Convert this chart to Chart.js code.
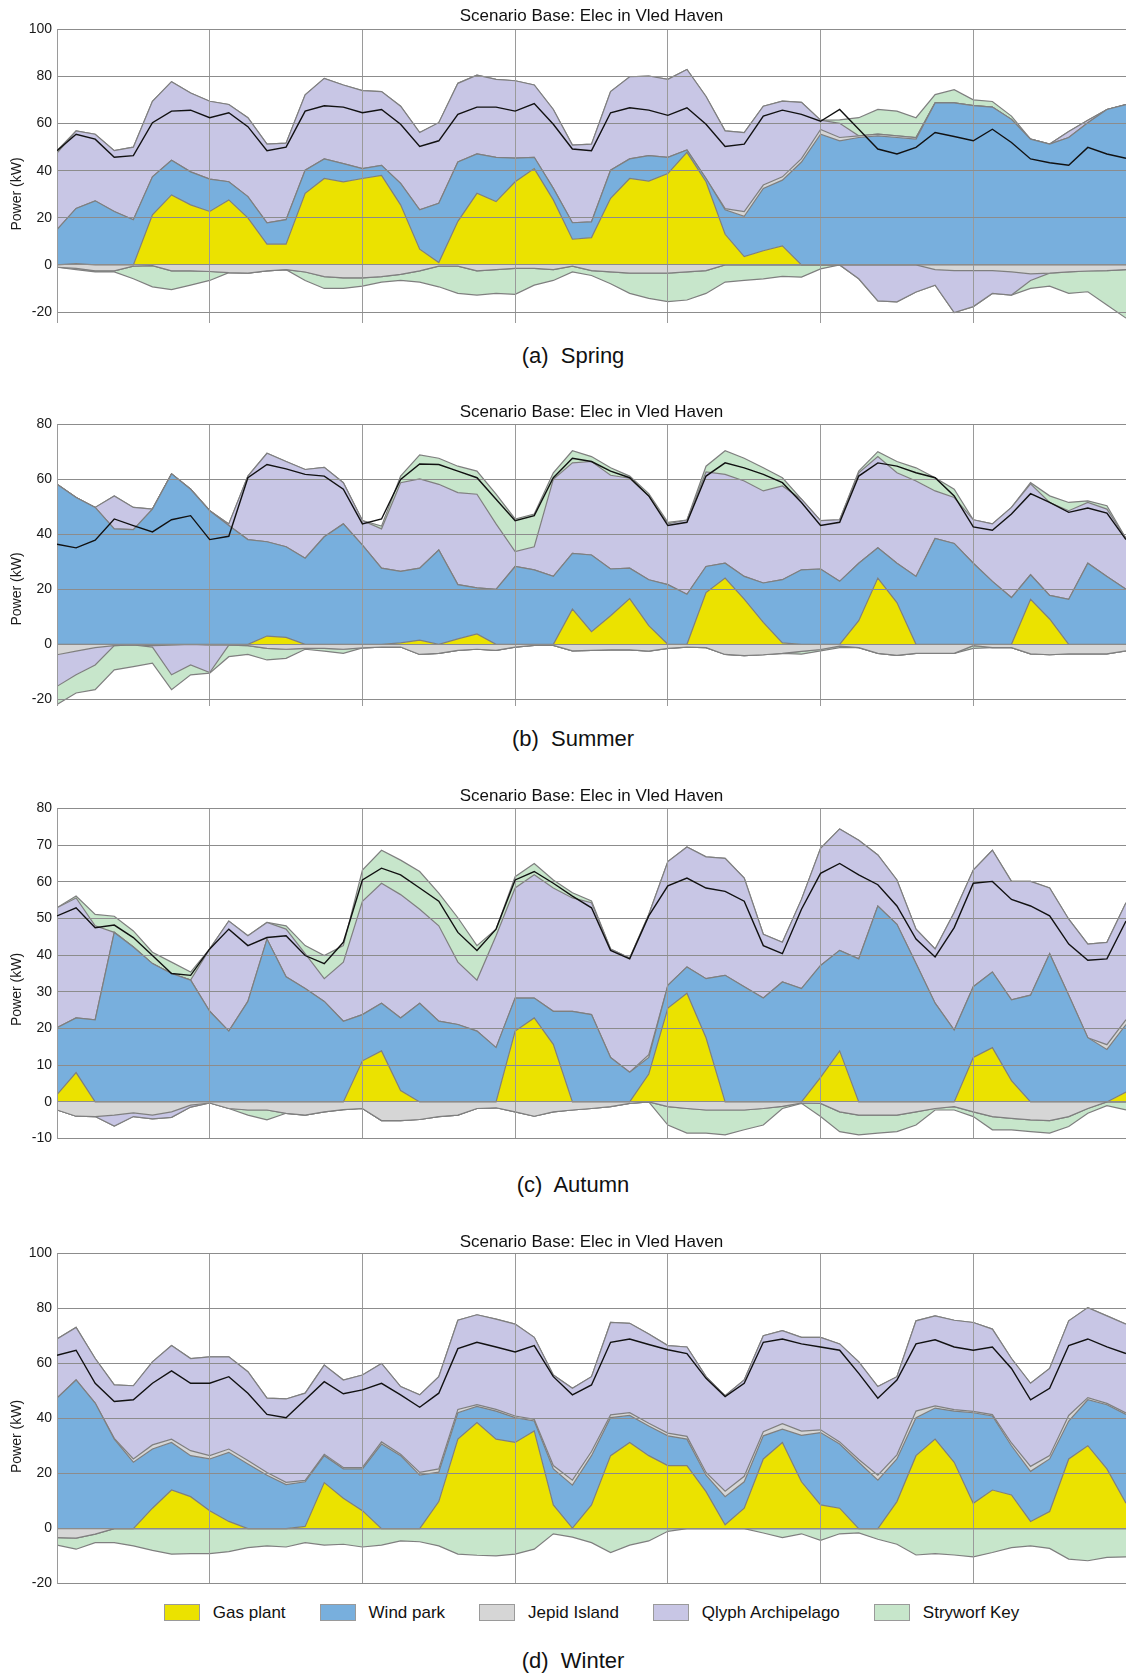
<!DOCTYPE html>
<html>
<head>
<meta charset="utf-8">
<script src="https://cdn.jsdelivr.net/npm/chart.js@4.4.0/dist/chart.umd.min.js"></script>
<style>
 body { margin: 0; background: #fff; width: 1126px; height: 1677px; position: relative; overflow: hidden;
  font-family: "Liberation Sans", Arial, Helvetica, sans-serif; color: #111; }
 canvas.panel { position: absolute; left: 0; }
 .title { position: absolute; left: 57px; width: 1069px; text-align: center; font-size: 17px; line-height: 20px; z-index: 2; }
 .caption { position: absolute; left: 0; width: 1146px; text-align: center; font-size: 22px; line-height: 26px; white-space: pre; }
 #legend { position: absolute; left: 57px; width: 1069px; top: 1602px; height: 21px; display: flex;
  justify-content: center; align-items: center; font-size: 17px; }
 #legend .item { display: flex; align-items: center; margin: 0 17px; white-space: nowrap; }
 #legend .sw { width: 36px; height: 17px; border: 1px solid #9a9a9a; box-sizing: border-box; margin-right: 13px; }
</style>
</head>
<body>
<canvas class="panel" id="spring" width="1126" height="320" style="top:16px"></canvas>
<canvas class="panel" id="summer" width="1126" height="308" style="top:411px"></canvas>
<canvas class="panel" id="autumn" width="1126" height="357" style="top:795px"></canvas>
<canvas class="panel" id="winter" width="1126" height="357" style="top:1240px"></canvas>

<div class="title" style="top:6px">Scenario Base: Elec in Vled Haven</div>
<div class="title" style="top:402px">Scenario Base: Elec in Vled Haven</div>
<div class="title" style="top:786px">Scenario Base: Elec in Vled Haven</div>
<div class="title" style="top:1232px">Scenario Base: Elec in Vled Haven</div>

<div class="caption" style="top:343px">(a)  Spring</div>
<div class="caption" style="top:726px">(b)  Summer</div>
<div class="caption" style="top:1172px">(c)  Autumn</div>
<div class="caption" style="top:1648px">(d)  Winter</div>

<div id="legend"></div>

<script>
// one point every 3 hours over a week
const hours = [];
for (let h = 0; h <= 168; h += 3) hours.push(h);

const seriesNames = ['Gas plant', 'Wind park', 'Jepid Island', 'Qlyph Archipelago', 'Stryworf Key'];
const seriesColors = ['#ebe200', '#78afdd', '#d6d6d6', '#c8c6e5', '#c7e6cb'];

// Spring
const springGas = [0,0.5,0,0,0,21.3,29.7,25.5,22.7,27.6, 20,8.8,8.8,30.4,36.7,35.3,36.7,38,25.5,6.7, 1,18.5,30.4,26.9,35.3,40.9,27.6,10.9,11.6,28.3, 36.7,35.6,38.8,47.8,35.3,13,3.5,6,8.1,0, 0,0,0,0,0,0,0,0,0,0, 0,0,0,0,0,0,0];
const springWind = [15,23.5,27.2,22.7,19.2,16.1,14.7,14,13.7,7.7, 9,9.1,10.4,9.8,8.3,7.7,4.2,4.3,9.1,16.7, 25.2,25.2,16.7,18.8,10,4.8,4.9,7,6.7,11.9, 8.3,10.8,6.9,1,1.4,10.4,17.1,26.5,27.9,43.7, 55.5,52.7,54.1,54.8,54.1,53.4,68.8,68.8,67.6,67, 61.8,53.4,51.3,54.1,60.4,66,68.1];
const springJepid = [-1,-1.5,-2.5,-2.5,-0.5,-0.3,-2.5,-2.5,-2.8,-3.3, -3.5,-2.5,-2,-3,-5,-5.5,-5.5,-5,-4,-2.5, -0.5,-0.5,-2.5,-2,-1.5,-1.5,-2,-0.5,-2.4,-3, -3.5,-3.5,-3.5,-3,-2.4,0.5,2,1.4,1.4,1.4, 2,1.4,0.7,0.7,0.7,0.7,-2,-2.4,-2.4,-2.4, -3,-3.8,-3.5,-3,-2.6,-2.4,-2];
const springQlyph = [32.5,32.9,28.3,25.8,30.8,32.1,33.4,33.5,33.1,32.8, 33.5,33.4,32.5,32,34.2,33.4,33.1,31.3,32.8,32.8, 34.2,33.4,33.5,33.1,32.9,30.7,33.5,33,33,33.4, 34.9,33.8,33.1,34.2,34.8,33,33.6,33.5,32.1,23.9, 4,6,-5.9,-15.3,-15.7,-11.5,-6.6,-17.8,-15.3,-9.7, -9.8,-2.8,0,2.5,1,0,0];
const springStryworf = [1,-0.5,-0.5,-0.5,-5.4,-9,-8,-6.1,-3.8,0, 0,0,0,-3.6,-5,-4.5,-3.5,-2.3,-2.6,-4.8, -8.8,-11.6,-10.3,-10.1,-11,-7.1,-4.6,-2.5,-2.1,-5, -8.6,-10.7,-12.1,-11.9,-9.7,-7.3,-6.6,-5.9,-4.9,-5.2, -1.7,1.5,7.7,10.5,10.5,8.4,3.5,5.6,2.5,2.4, 1.4,-3.4,-5.5,-9.1,-8.8,-14.6,-20.6];
const springDemand = [48.5,55.5,53.4,45.7,46.4,60.4,65.3,65.7,62.5,64.6, 58.7,48.5,50,65.3,67.6,67,64.6,66,59.7,50.3, 52.7,63.9,67,67,65.3,68.5,59.7,49.2,48.5,64.6, 66.7,65.7,63.5,66.7,59.7,50.3,51.3,63.2,65.7,63.9, 61,66,57.6,49.2,47.1,49.9,56.2,54.5,52.7,57.6, 52,45,43.4,42.3,49.9,47.1,45.3];

// Summer
const summerGas = [0,0,0,0,0,0,0,0,0,0, 0,3,2.5,0,0,0,0,0,0.5,1.5, 0,2,3.8,0,0,0,0,12.8,4.6,10.4, 16.6,6.8,0,0,18.8,24.1,16.4,8,0.5,0, 0,0,8.6,24.1,15.2,0,0,0,0,0, 0,16.4,9.2,0,0,0,0];
const summerWind = [58.2,53.4,49.8,42,41.7,49.2,62,56.4,48.6,43.2, 38.1,34.3,33,31.3,39.1,43.8,36.1,27.7,26,26.2, 34.3,19.7,16.7,20,28.3,27.1,24.7,20.3,27.9,17, 11.1,16.7,21.7,18.2,9.5,5.4,8.3,14.3,23,27.1, 27.4,22.9,20.9,11,14.3,24.7,38.5,36.7,29.5,22.9, 17,8.9,8.6,16.4,29.5,24.7,20];
const summerJepid = [-3.8,-2.5,-1.2,-0.5,-0.2,-0.5,-0.3,0,-0.3,-0.3, -0.5,-1.5,-1.8,-1.5,-1.5,-1.8,-1.3,-1,-1,-3.7, -3.3,-2.2,-1.8,-2.2,-1,-0.4,-0.4,-2.4,-2.2,-2, -2,-2.5,-1.5,-1,-1.2,-3.7,-4.1,-3.8,-3.3,-2.6, -1.9,-0.7,-1.2,-3.3,-4,-3.3,-3.3,-3.3,-0.5,-1.2, -1.2,-3.5,-3.8,-3.5,-3.5,-3.5,-2.4];
const summerQlyph = [-11.5,-8.6,-6.3,12,8.1,-0.5,-10.8,-7.5,-10,0.6, 23.1,32.2,31,32.3,25.3,15,8.9,14.3,32.3,32.5, 23.9,33.5,34.1,23.8,5.4,8.4,35.3,32.9,34,34.1, 32.7,30.5,22.1,27,34.4,32.3,34.7,33.5,34.1,25.7, 17.6,22.4,32.9,33.2,32.9,34.7,17.3,16.7,15.8,20.9, 32.8,33.1,33.8,32.2,22.1,24.5,18.5];
const summerStryworf = [-6.6,-6.6,-9,-8.8,-7.9,-5.9,-5.4,-3.6,-0.2,-4.2, -3.2,-4.2,-3.3,-0.3,-1,-1.5,0,1,2.4,8.7, 9.5,9.6,8.4,10.8,11.9,11.9,2.4,4.4,1.8,2.7, 0.8,0.8,0.6,0,2.1,8.6,8.3,8.4,3,-1, -0.5,-0.5,0.6,1.8,4.1,4.8,4.8,3,-1,0, 0,0.4,2.4,3,0.6,1.2,0];
const summerDemand = [36.4,35.1,37.9,45.6,43.2,40.9,45.3,46.8,38.1,39.3, 60.6,65.4,63.8,61.8,61.2,56.4,43.8,45.6,60,65.6, 65.4,63,60.6,52.8,45,46.8,60.6,67.7,66.5,63, 60.6,54,43.2,44.4,61.2,66,64.2,61.8,58.8,51.6, 43.2,44.4,61.2,66,64.8,62.4,60.6,54,42.7,41.5, 47.4,54.8,51.6,48,49.6,47.7,38.1];

// Autumn
const autumnGas = [2,8,0,0,0,0,0,0,0,0, 0,0,0,0,0,0,11.2,13.9,3.1,0, 0,0,0,0,19.3,22.9,15.7,0,0,0, 0,7.6,25.6,29.6,17.5,0,0,0,0,0, 6.7,13.9,0,0,0,0,0,0,12.1,14.8, 5.8,0,0,0,0,0,2.7];
const autumnWind = [18.2,14.9,22.4,46.2,42.2,37.7,35,33.2,24.7,19.3, 27.4,44.4,34.1,30.9,27.4,22,12.6,13,19.8,26.9, 22,21.1,19.3,14.8,9,5.4,9,24.7,23.8,12.1, 8.1,4.5,6.2,7.2,16.1,34.5,31.4,28.3,32.7,30.9, 30.5,27.4,39,53.4,48.4,37.7,26.9,19.6,19.3,20.6, 22,29.1,40.4,29.1,17.5,14.3,18.4];
const autumnJepid = [-2.2,-3.9,-4,-3.6,-3,-3.6,-2.7,-0.9,-0.3,-1.8, -2.2,-2.2,-3.1,-3.6,-2.7,-2.1,-1.8,-5.1,-5.1,-4.8, -4,-3.6,-1.8,-1.6,-2.7,-3.9,-2.7,-2.2,-1.8,-1.3, -0.4,0.8,-1.3,-1.8,-2.2,-2.2,-2.2,-1.8,-1.2,-0.3, -0.4,-2.7,-3.6,-3.6,-3.6,-2.7,-1.8,-1.3,-2.7,-4, -4.5,-4.9,-5.1,-4,-1.8,1.3,1.3];
const autumnQlyph = [32.7,32.7,25.6,-3,-1,-1,-1.5,-0.5,17,30, 17.9,4.5,13,9.5,6.2,16.1,30.9,32.7,33.6,25.6, 26,17,13.9,30.5,30,33.6,33.6,30.9,30.5,29.6, 31.1,38.2,33.7,32.7,33.2,31.9,29.6,17.4,10.8,24.3, 31.9,33.1,32.3,13.9,12.1,9.4,14.8,32,31.8,33.2, 32.3,31,17.9,20.7,25.5,27.9,31.9];
const autumnStryworf = [0,0.5,3.1,4.4,4.4,3.1,3.1,2.2,0,0, -1.4,-2.7,0.9,2.2,6.3,4.5,8.5,9,9.4,10.3, 8.9,12.1,9.4,1.8,3.1,3.1,2.2,1.4,0.5,0, 0,0,-5,-6.7,-6.3,-6.8,-5.4,-4.5,-0.6,-0.1, -3.6,-5.4,-5.4,-4.9,-4.5,-3.6,-0.4,-0.9,-1.3,-3.6, -3.1,-3.2,-3.4,-2.7,-1.3,-1,-2.2];
const autumnDemand = [50.7,52.9,47.5,48.2,44.8,39.9,35,34.5,41.7,47.1, 42.6,44.8,45.3,39.9,37.7,43.5,60.5,63.7,61.9,58.3, 54.7,46.2,41.3,47.1,60.5,62.8,59.6,56.1,52.9,41.3, 39,50.7,58.9,61,58.3,57.4,54.7,42.6,40.4,52.5, 62.3,65,61.9,59.2,53.4,44.4,39.5,47.5,59.6,60.1, 55.2,53.4,50.7,43,38.6,39,49.3];

// Winter
const winterGas = [0,0,0,0,0,7.4,14,11.6,6.5,2.6, 0,0,0,0.8,16.7,11,6.5,0,0,0, 9.8,32.5,38.5,32.5,31.3,35.5,8.6,0.2,8.6,26.5, 31.3,26.5,22.9,22.9,13.4,1.4,7.4,25.3,31.3,17, 8.6,7.4,0,0,9.8,26.5,32.5,24.1,9.2,14, 12.2,2.6,6.2,25.3,30.1,21.7,9.2];
const winterWind = [47.4,54,45.6,32.5,24.1,21.5,17.3,14.9,18.8,25.1, 23.5,19.4,16,16.2,9.8,10.7,15.2,30.7,26.5,19.4, 10.7,9.6,5.9,10.2,9,3.6,13.1,15.6,17.9,13.8, 9.8,10.8,10.8,9.6,6,10.2,9.6,8.4,4.8,16.9, 26.3,23.3,24.1,17.6,15.5,13.8,11.3,18.6,32.9,26.9, 17.9,18.2,19.1,13.8,16.7,23.3,32.3];
const winterJepid = [-3.3,-3.5,-2,0.3,1.2,1.5,1.2,1.8,1.2,1.2, 1.2,1,0.8,0.5,0.5,0.5,0.5,0.8,0.5,1, 1.2,1.2,0.6,0.6,0.6,0.6,1.2,1.8,1.5,1, 1,1,1,1,1,2,2,1.5,2,1.5, 1,0.8,1,1.8,1.5,2.4,0.8,0.5,0.5,0.5, 1,1.8,1.2,2,0.8,0.5,0.5];
const winterQlyph = [21.5,19.1,16.2,19.4,26.6,30.2,34,33.5,35.9,33.5, 32.3,27,30.3,31.7,32.4,31.8,33.6,28.5,24.6,28.2, 33.5,32.4,32.7,32.8,33.4,29.8,32.9,33.4,27.2,33.6, 32.5,32.4,31.8,32.5,34.8,34.7,35,34.9,33.8,34.1, 33.6,35.6,35.5,32.2,28.4,32.8,32.7,32.5,32.3,31.1, 30.7,30.2,31.7,34.4,32.7,31.8,32.3];
const winterStryworf = [-2.7,-4,-3.1,-5.1,-6.3,-7.9,-9.3,-9.1,-9.1,-8.4, -6.9,-6.3,-6.7,-5.1,-6,-5.7,-6.7,-6,-4.5,-4.8, -6.3,-9.3,-9.7,-9.9,-9.3,-7.5,-1.9,-3.1,-5.1,-8.7, -6,-4.5,-1,0,0,0,0,-1.6,-3.3,-1.9, -4.3,-1.9,-1.6,-3.9,-5.7,-9.6,-9.1,-9.6,-10.3,-8.7, -6.9,-6.3,-7.2,-11.1,-11.7,-10.5,-10.3];
const winterDemand = [63,64.8,52.8,46.2,46.8,52.8,57.3,52.8,52.8,55.2, 49.2,41.5,40.3,46.8,53.4,49,50.4,52.8,48.6,44.1, 49.2,65.4,67.7,66,64.2,66.5,55.2,48.6,52.2,67.7, 68.9,66.9,65,63.6,54.6,48,52.8,67.7,68.9,67.1, 66,64.8,56.4,47.4,54,67.1,68.6,66,64.8,66, 58.2,46.8,51,66.5,68.9,66,63.6];

const panels = [
 { id: 'spring', series: [springGas, springWind, springJepid, springQlyph, springStryworf], demand: springDemand, min: -24.5, max: 100, step: 20, labelShift: 18 },
 { id: 'summer', series: [summerGas, summerWind, summerJepid, summerQlyph, summerStryworf], demand: summerDemand, min: -22.3, max: 80, step: 20, labelShift: 24 },
 { id: 'autumn', series: [autumnGas, autumnWind, autumnJepid, autumnQlyph, autumnStryworf], demand: autumnDemand, min: -10, max: 80, step: 10, labelShift: 16 },
 { id: 'winter', series: [winterGas, winterWind, winterJepid, winterQlyph, winterStryworf], demand: winterDemand, min: -20, max: 100, step: 20, labelShift: 18 }
];

const fontFamily = '"Liberation Sans", Arial, Helvetica, sans-serif';
Chart.defaults.font.family = fontFamily;
Chart.defaults.color = '#1a1a1a';

// grid goes over the filled areas but under the demand line
const gridOnTop = {
 id: 'gridOnTop',
 beforeDatasetDraw(chart, args) {
  if (args.index !== chart.data.datasets.length - 1) return;
  chart.scales.x.drawGrid(chart.chartArea);
  chart.scales.y.drawGrid(chart.chartArea);
 }
};

// y axis label, sitting a little below the middle of the plot as in the original
const yLabel = {
 id: 'yLabel',
 afterDraw(chart, args, opts) {
  const { ctx, chartArea } = chart;
  ctx.save();
  ctx.translate(17, (chartArea.top + chartArea.bottom) / 2 + opts.shift);
  ctx.rotate(-Math.PI / 2);
  ctx.font = '14px ' + fontFamily;
  ctx.fillStyle = '#1a1a1a';
  ctx.textAlign = 'center';
  ctx.textBaseline = 'middle';
  ctx.fillText(opts.text, 0, 0);
  ctx.restore();
 }
};

function points(values) {
 return hours.map((h, i) => ({ x: h, y: values[i] }));
}

function area(label, values, color, stack, fill) {
 return {
  label: label, data: points(values), stack: stack, fill: fill,
  backgroundColor: color, borderColor: '#7f7f7f', borderWidth: 1.2,
  pointRadius: 0, tension: 0
 };
}

panels.forEach(p => {
 const pos = p.series.map(s => s.map(v => Math.max(v, 0)));
 const neg = p.series.map(s => s.map(v => Math.min(v, 0)));
 const datasets = [];
 seriesNames.forEach((name, i) => {
  datasets.push(area(name, pos[i], seriesColors[i], 'pos', i === 0 ? 'origin' : '-1'));
 });
 [2, 3, 4].forEach((i, k) => {
  datasets.push(area(seriesNames[i], neg[i], seriesColors[i], 'neg', k === 0 ? 'origin' : '-1'));
 });
 datasets.push({
  label: 'Demand', data: points(p.demand), stack: 'demand', fill: false, order: -1,
  borderColor: '#111', borderWidth: 1.4, pointRadius: 0, tension: 0
 });

 new Chart(document.getElementById(p.id), {
  type: 'line',
  data: { datasets: datasets },
  plugins: [gridOnTop, yLabel],
  options: {
   responsive: false,
   animation: false,
   events: [],
   layout: { padding: { top: 12, bottom: 10, left: 0, right: 0 } },
   plugins: {
    legend: { display: false },
    tooltip: { enabled: false },
    yLabel: { text: 'Power (kW)', shift: p.labelShift }
   },
   scales: {
    x: {
     type: 'linear', min: 0, max: 168,
     ticks: { display: false, stepSize: 24 },
     grid: { color: '#9a9a9a', lineWidth: 1, drawTicks: false },
     border: { display: false }
    },
    y: {
     stacked: true, min: p.min, max: p.max,
     ticks: { stepSize: p.step, includeBounds: false, padding: 5, font: { size: 14 } },
     grid: { color: '#8c8c8c', lineWidth: 1, drawTicks: false },
     border: { display: true, color: '#8c8c8c' },
     afterFit: scale => { scale.width = 57; }
    }
   }
  }
 });
});

// legend below the winter chart
const legend = document.getElementById('legend');
seriesNames.forEach((name, i) => {
 const item = document.createElement('div');
 item.className = 'item';
 const sw = document.createElement('span');
 sw.className = 'sw';
 sw.style.background = seriesColors[i];
 item.appendChild(sw);
 item.appendChild(document.createTextNode(name));
 legend.appendChild(item);
});
</script>
</body>
</html>
